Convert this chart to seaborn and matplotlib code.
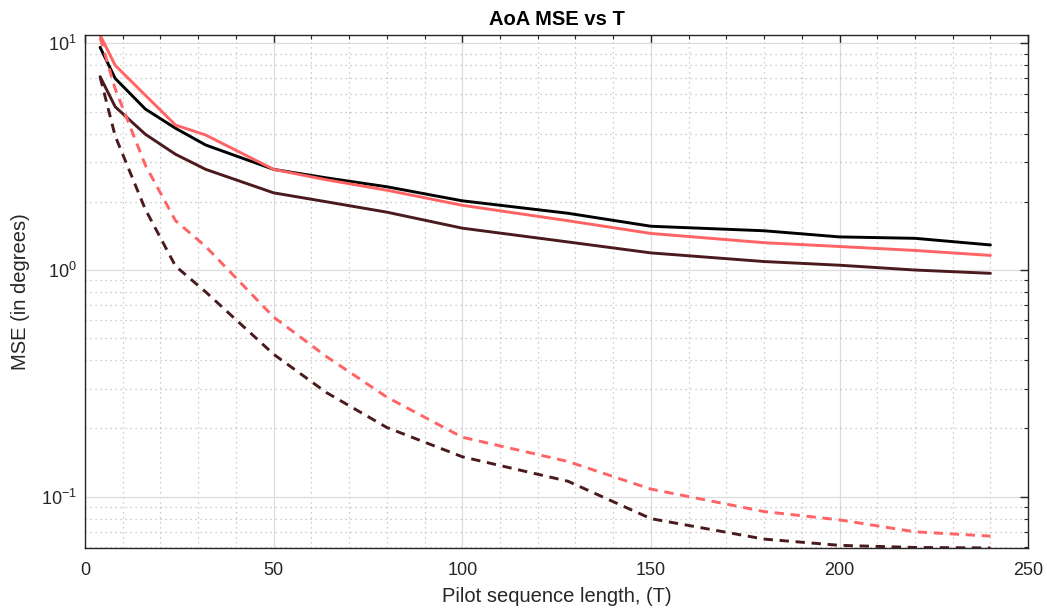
import numpy as np
import pandas as pd
import matplotlib
matplotlib.use("Agg")
import matplotlib.pyplot as plt
import seaborn as sns
from matplotlib.ticker import MultipleLocator, LogLocator, NullFormatter

# ---- data ----
T = [4, 8, 16, 24, 32, 50, 64, 80, 100, 128, 150, 180, 200, 220, 240]

black_solid  = [9.6, 7.0, 5.13, 4.22, 3.56, 2.78, 2.55, 2.33, 2.02, 1.78, 1.56, 1.49, 1.40, 1.38, 1.29]
salmon_solid = [10.88, 8.0, 5.9, 4.36, 3.94, 2.78, 2.50, 2.25, 1.93, 1.65, 1.45, 1.32, 1.27, 1.22, 1.16]
brown_solid  = [7.13, 5.25, 3.97, 3.24, 2.78, 2.19, 2.00, 1.80, 1.53, 1.33, 1.19, 1.09, 1.05, 1.00, 0.967]
salmon_dash  = [10.6, 6.3, 2.9, 1.65, 1.27, 0.62, 0.415, 0.275, 0.183, 0.143, 0.108, 0.086, 0.079, 0.070, 0.067]
brown_dash   = [7.1, 3.9, 1.85, 1.04, 0.80, 0.425, 0.288, 0.202, 0.150, 0.117, 0.080, 0.065, 0.061, 0.0597, 0.0594]

series = [
    ("black_solid", black_solid, "#000000", "-"),
    ("salmon_solid", salmon_solid, "#FF6363", "-"),
    ("brown_solid", brown_solid, "#4A1A1D", "-"),
    ("salmon_dash", salmon_dash, "#FF6363", "--"),
    ("brown_dash", brown_dash, "#4A1A1D", "--"),
]

title = "AoA MSE vs T"
xlabel = "Pilot sequence length, (T)"
ylabel = "MSE (in degrees)"

# ---- styling ----
sns.set_theme(style="white")
plt.rcParams["font.family"] = ["Liberation Sans", "DejaVu Sans"]
plt.rcParams["mathtext.fontset"] = "custom"
plt.rcParams["mathtext.rm"] = "Liberation Sans"

fig = plt.figure(figsize=(10.47, 6.15), dpi=100)
ax = fig.add_axes([0.0812, 0.109, 0.9008, 0.834])

for name, vals, color, ls in series:
    df = pd.DataFrame({"T": T, "MSE": vals})
    sns.lineplot(data=df, x="T", y="MSE", ax=ax, color=color, linewidth=2.1,
                 estimator=None, sort=False)
    line = ax.lines[-1]
    if ls == "--":
        line.set_linestyle((0, (3.2, 2.3)))

ax.set_yscale("log")
allv = np.concatenate([np.array(v) for _, v, _, _ in series])
ax.set_ylim(allv.min(), allv.max())
ax.set_xlim(0, 250)

ax.xaxis.set_major_locator(MultipleLocator(50))
ax.xaxis.set_minor_locator(MultipleLocator(10))
ax.yaxis.set_major_locator(LogLocator(base=10))
ax.yaxis.set_minor_locator(LogLocator(base=10, subs=np.arange(2, 10)))
ax.yaxis.set_minor_formatter(NullFormatter())

ax.grid(which="major", color="#dcdcdc", linestyle="-", linewidth=0.9)
ax.grid(which="minor", color="#bdbdbd", linestyle=(0, (1, 3)), linewidth=0.9)
ax.set_axisbelow(True)

axis_col = "#262626"
for s in ax.spines.values():
    s.set_color(axis_col)
    s.set_linewidth(1.0)
    s.set_visible(True)

ax.tick_params(which="both", direction="in", top=True, right=True,
               colors=axis_col, labelcolor=axis_col)
ax.tick_params(which="major", length=6, width=1.0, labelsize=13)
ax.tick_params(which="minor", length=3, width=0.8)
ax.tick_params(axis="x", pad=10)
ax.tick_params(axis="y", pad=6)

ax.set_xlabel(xlabel, fontsize=14.5, color=axis_col, labelpad=6)
ax.set_ylabel(ylabel, fontsize=14.5, color=axis_col, labelpad=8)
ax.set_title(title, fontsize=14.5, fontweight="bold", color="#000000", pad=7)

fig.savefig("out.png", dpi=100)
